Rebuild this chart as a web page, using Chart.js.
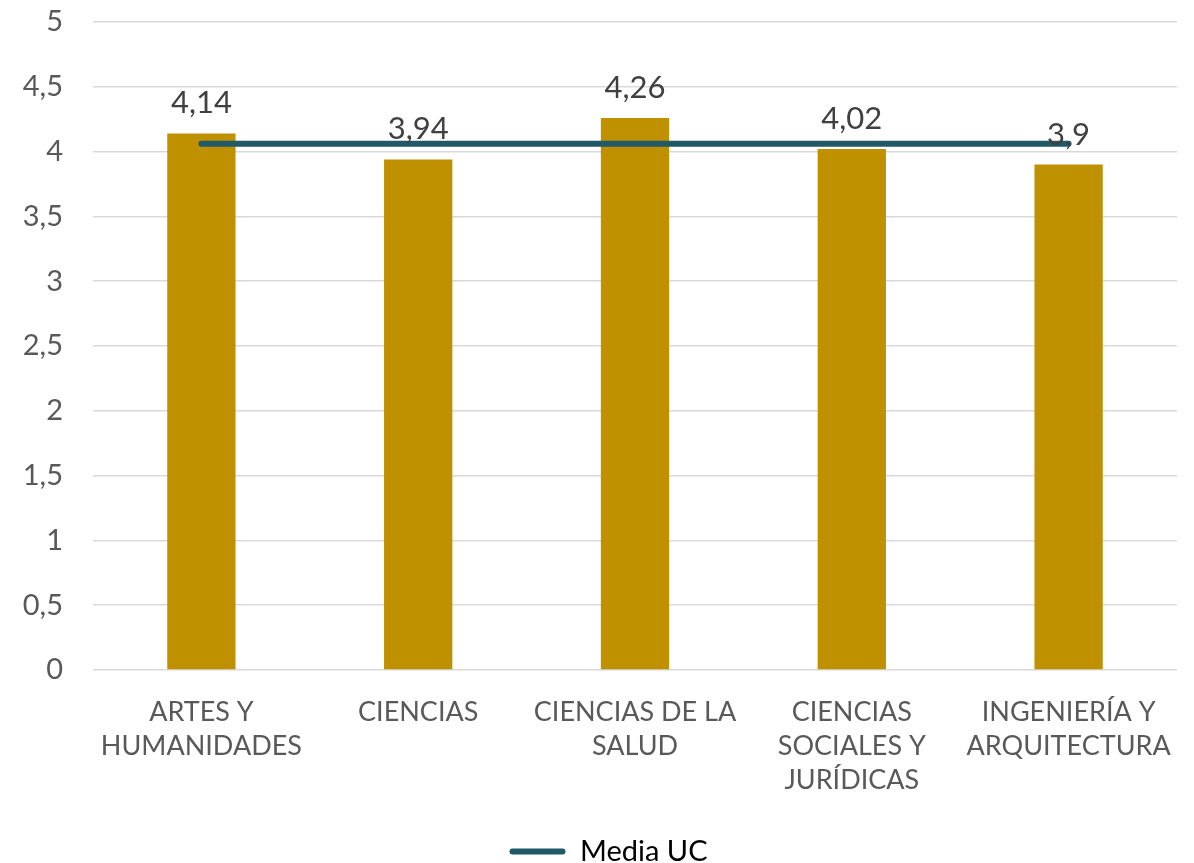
<!DOCTYPE html>
<html>
<head>
<meta charset="utf-8">
<script src="https://cdn.jsdelivr.net/npm/chart.js@4/dist/chart.umd.min.js"></script>
<style>
  html, body { margin: 0; padding: 0; background: #fff; }
  #wrap { width: 1194px; height: 863px; }
</style>
</head>
<body>
<div id="wrap"><canvas id="chart"></canvas></div>
<script>
var categories = [
    ["ARTES Y", "HUMANIDADES"],
    ["CIENCIAS"],
    ["CIENCIAS DE LA", "SALUD"],
    ["CIENCIAS", "SOCIALES Y", "JURÍDICAS"],
    ["INGENIERÍA Y", "ARQUITECTURA"]
];
var barValues = [4.14, 3.94, 4.26, 4.02, 3.9];
var mediaUC = [4.06, 4.06, 4.06, 4.06, 4.06];

var FONT = "Lato, Calibri, 'Open Sans', sans-serif";

function comma(v) {
    return String(v).replace(".", ",");
}

// etiquetas de valor encima de las barras
var barLabels = {
    id: "barLabels",
    afterLayout: function (chart) {
        // la leyenda del original no está centrada del todo
        chart.legend.left += 20;
        chart.legend.right += 20;
    },
    afterDatasetsDraw: function (chart) {
        var ctx = chart.ctx;
        var meta = chart.getDatasetMeta(0);
        ctx.save();
        ctx.font = "31px " + FONT;
        ctx.fillStyle = "#404040";
        ctx.textAlign = "center";
        ctx.textBaseline = "middle";
        meta.data.forEach(function (bar, i) {
            ctx.fillText(comma(barValues[i]), bar.x, bar.y - 30);
        });
        ctx.restore();
    }
};

var ctx = document.getElementById("chart").getContext("2d");
var chart = new Chart(ctx, {
    type: "bar",
    data: {
        labels: categories,
        datasets: [
            {
                type: "bar",
                label: "Valor",
                data: barValues,
                backgroundColor: "#BF9000",
                barPercentage: 0.63,
                categoryPercentage: 0.5,
                order: 1
            },
            {
                type: "line",
                label: "Media UC",
                data: mediaUC,
                borderColor: "#215968",
                borderWidth: 6,
                borderCapStyle: "round",
                pointRadius: 0,
                fill: false,
                order: 0
            }
        ]
    },
    options: {
        responsive: true,
        maintainAspectRatio: false,
        animation: false,
        layout: { padding: { top: 22, right: 17, left: 0, bottom: -13 } },
        plugins: {
            tooltip: { enabled: false },
            legend: {
                position: "bottom",
                labels: {
                    color: "#595959",
                    font: { family: FONT, size: 29 },
                    boxWidth: 56,
                    boxHeight: 6,
                    padding: 4,
                    generateLabels: function () {
                        return [{
                            text: "Media UC",
                            fillStyle: "#215968",
                            strokeStyle: "#215968",
                            lineWidth: 0,
                            borderRadius: 3,
                            datasetIndex: 1
                        }];
                    }
                }
            }
        },
        scales: {
            x: {
                grid: { display: false },
                border: { display: false },
                ticks: {
                    color: "#595959",
                    font: { family: FONT, size: 27, lineHeight: 1.26 },
                    maxRotation: 0,
                    autoSkip: false,
                    padding: 17
                },
                afterFit: function (axis) {
                    axis.paddingLeft = 0;
                    axis.paddingRight = 0;
                    axis.height = 163;
                }
            },
            y: {
                min: 0,
                max: 5,
                border: { display: false },
                grid: { color: "#d9d9d9", lineWidth: 1.5, drawTicks: false },
                ticks: {
                    stepSize: 0.5,
                    color: "#595959",
                    font: { family: FONT, size: 29 },
                    padding: 30,
                    callback: function (v) { return comma(v); }
                },
                afterFit: function (axis) {
                    axis.paddingTop = 0;
                    axis.paddingBottom = 0;
                    axis.width = 93;
                }
            }
        }
    },
    plugins: [barLabels]
});
</script>
</body>
</html>
